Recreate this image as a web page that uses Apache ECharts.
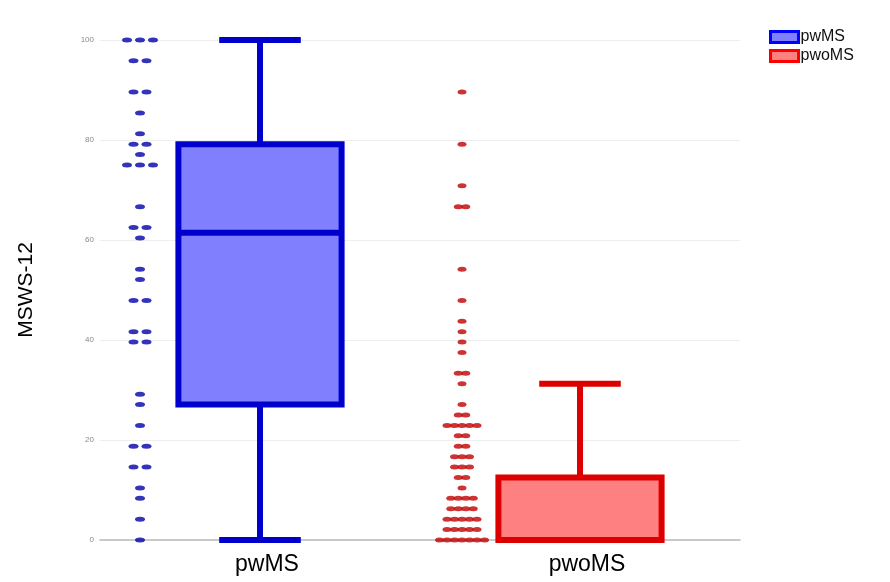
<!DOCTYPE html>
<html>
<head>
<meta charset="utf-8">
<script src="https://cdn.jsdelivr.net/npm/echarts@6/dist/echarts.min.js"></script>
<style>
  html, body { margin: 0; padding: 0; background: #fff; }
  #chart { width: 890px; height: 582px; }
</style>
</head>
<body>
<div id="chart"></div>
<script>
// groups on the x axis
const categories = ['pwMS', 'pwoMS'];
// box stats: [min, Q1, median, Q3, max]
const pwmsBox = [0, 27.08, 61.46, 79.17, 100];
const pwomsBox = [0, 0, 0, 12.5, 31.25];
// individual MSWS-12 scores (dot plot)
const pwmsScores = [
  100, 100, 100, 95.83, 95.83, 89.58, 89.58, 85.42, 81.25, 79.17, 79.17, 77.08,
  75, 75, 75, 66.67, 62.5, 62.5, 60.42, 54.17, 52.08, 47.92, 47.92, 41.67, 41.67,
  39.58, 39.58, 29.17, 27.08, 22.92, 18.75, 18.75, 14.58, 14.58, 10.42, 8.33, 4.17, 0
];
const pwomsScores = [
  89.58, 79.17, 70.83, 66.67, 66.67, 54.17, 47.92, 43.75, 41.67, 39.58, 37.5,
  33.33, 33.33, 31.25, 27.08, 25, 25, 22.92, 22.92, 22.92, 22.92, 22.92,
  20.83, 20.83, 18.75, 18.75, 16.67, 16.67, 16.67, 14.58, 14.58, 14.58, 12.5, 12.5,
  10.42, 8.33, 8.33, 8.33, 8.33, 6.25, 6.25, 6.25, 6.25, 4.17, 4.17, 4.17, 4.17, 4.17,
  2.08, 2.08, 2.08, 2.08, 2.08, 0, 0, 0, 0, 0, 0, 0
];
const yTicks = [0, 20, 40, 60, 80, 100];

const blueLine = '#0000cc', blueFill = '#8080ff', blueDot = '#0000aa';
const redLine = '#dd0000', redFill = '#ff8080', redDot = '#c00000';

// stack equal scores side by side, left of the box
function dotData(scores, catIdx, shift, gap) {
  const counts = {};
  scores.forEach(v => { counts[v] = (counts[v] || 0) + 1; });
  const seen = {};
  return scores.map(v => {
    const i = seen[v] || 0;
    seen[v] = i + 1;
    const n = counts[v];
    return { value: [catIdx, v], symbolOffset: [shift + (i - (n - 1) / 2) * gap, 0] };
  });
}

function renderBox(params, api) {
  const cat = api.value(0);
  const lo = api.coord([cat, api.value(1)]);
  const q1 = api.coord([cat, api.value(2)]);
  const med = api.coord([cat, api.value(3)]);
  const q3 = api.coord([cat, api.value(4)]);
  const hi = api.coord([cat, api.value(5)]);
  const bw = api.size([1, 0])[0] * 0.51;
  const x = q1[0];
  const stroke = params.seriesIndex === 0 ? blueLine : redLine;
  const fill = params.seriesIndex === 0 ? blueFill : redFill;
  const ls = { stroke: stroke, lineWidth: 6, fill: null };
  const kids = [];
  if (hi[1] < q3[1]) {
    kids.push({ type: 'line', shape: { x1: x, y1: q3[1], x2: x, y2: hi[1] }, style: ls });
    kids.push({ type: 'line', shape: { x1: x - bw / 4, y1: hi[1], x2: x + bw / 4, y2: hi[1] }, style: ls });
  }
  if (lo[1] > q1[1]) {
    kids.push({ type: 'line', shape: { x1: x, y1: q1[1], x2: x, y2: lo[1] }, style: ls });
    kids.push({ type: 'line', shape: { x1: x - bw / 4, y1: lo[1], x2: x + bw / 4, y2: lo[1] }, style: ls });
  }
  kids.push({
    type: 'rect',
    shape: { x: x - bw / 2, y: q3[1], width: bw, height: q1[1] - q3[1] },
    style: { fill: fill, stroke: stroke, lineWidth: 6 }
  });
  kids.push({ type: 'line', shape: { x1: x - bw / 2, y1: med[1], x2: x + bw / 2, y2: med[1] }, style: ls });
  return { type: 'group', children: kids };
}

const chart = echarts.init(document.getElementById('chart'));
chart.setOption({
  animation: false,
  backgroundColor: '#fff',
  grid: { left: 100, right: 150, top: 40, bottom: 42 },
  legend: {
    orient: 'vertical',
    left: 764,
    top: 24,
    itemWidth: 28,
    itemHeight: 11,
    itemGap: 3,
    textStyle: { fontFamily: 'Liberation Sans', fontSize: 16, color: '#111', padding: [0, 0, 0, -3] },
    data: [
      { name: 'pwMS', icon: 'rect', itemStyle: { color: blueFill, borderColor: '#0000ff', borderWidth: 3 } },
      { name: 'pwoMS', icon: 'rect', itemStyle: { color: redFill, borderColor: '#ff0000', borderWidth: 3 } }
    ]
  },
  xAxis: {
    type: 'category',
    data: categories,
    axisTick: { show: false },
    axisLine: { lineStyle: { color: '#bbb', width: 1.5 } },
    axisLabel: { fontFamily: 'Liberation Sans', fontSize: 23, color: '#000', margin: 13, padding: [0, 0, 0, 14] }
  },
  yAxis: {
    type: 'value',
    min: yTicks[0],
    max: yTicks[yTicks.length - 1],
    interval: 20,
    name: 'MSWS-12',
    nameLocation: 'middle',
    nameGap: 63,
    nameTextStyle: { fontFamily: 'Liberation Sans', fontSize: 21, color: '#000' },
    axisLine: { show: false },
    axisTick: { show: false },
    axisLabel: { fontSize: 8, color: '#888', margin: 6 },
    splitLine: { lineStyle: { color: '#eeeeee', width: 1 } }
  },
  series: [
    {
      name: 'pwMS',
      type: 'custom',
      renderItem: renderBox,
      itemStyle: { color: blueFill },
      data: [[0].concat(pwmsBox)],
      z: 3
    },
    {
      name: 'pwoMS',
      type: 'custom',
      renderItem: renderBox,
      itemStyle: { color: redFill },
      data: [[1].concat(pwomsBox)],
      z: 3
    },
    {
      name: 'pwMS scores',
      type: 'scatter',
      symbol: 'circle',
      symbolSize: [10, 5],
      itemStyle: { color: blueDot },
      data: dotData(pwmsScores, 0, -120, 13),
      z: 4
    },
    {
      name: 'pwoMS scores',
      type: 'scatter',
      symbol: 'circle',
      symbolSize: [9, 5],
      itemStyle: { color: redDot },
      data: dotData(pwomsScores, 1, -118, 7.5),
      z: 4
    }
  ]
});
</script>
</body>
</html>
